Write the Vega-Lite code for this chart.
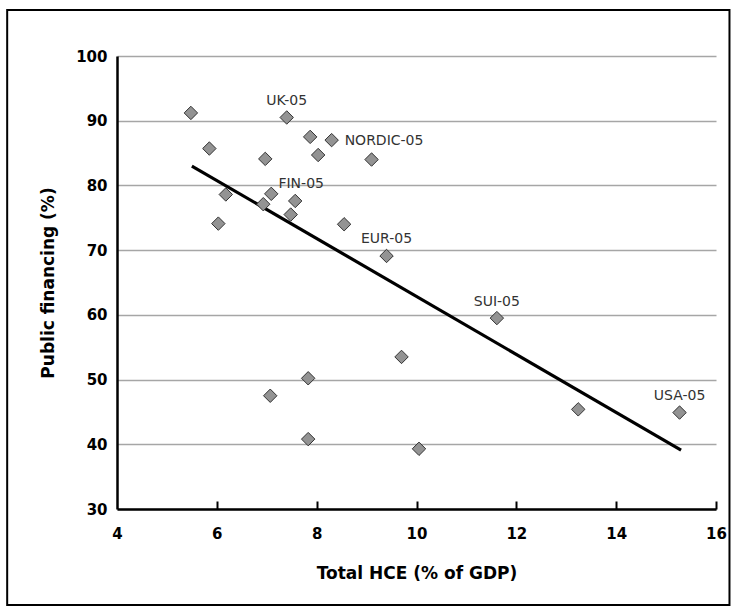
{
  "$schema": "https://vega.github.io/schema/vega-lite/v6.json",
  "width": 599,
  "height": 453,
  "autosize": {"type": "none"},
  "padding": {"left": 117, "top": 56, "right": 20, "bottom": 101},
  "background": "white",
  "config": {"view": {"stroke": null}, "font": "DejaVu Sans"},
  "resolve": {"axis": {"x": "independent"}},
  "datasets": {
    "points": [
      {"hce": 5.48, "pub": 91.2, "label": ""},
      {"hce": 7.40, "pub": 90.5, "label": "UK-05"},
      {"hce": 7.87, "pub": 87.5, "label": ""},
      {"hce": 8.30, "pub": 87.0, "label": "NORDIC-05"},
      {"hce": 5.85, "pub": 85.7, "label": ""},
      {"hce": 8.03, "pub": 84.7, "label": ""},
      {"hce": 6.97, "pub": 84.1, "label": ""},
      {"hce": 9.10, "pub": 84.0, "label": ""},
      {"hce": 6.18, "pub": 78.6, "label": ""},
      {"hce": 7.09, "pub": 78.7, "label": ""},
      {"hce": 7.57, "pub": 77.6, "label": "FIN-05"},
      {"hce": 6.93, "pub": 77.1, "label": ""},
      {"hce": 7.48, "pub": 75.5, "label": ""},
      {"hce": 6.03, "pub": 74.1, "label": ""},
      {"hce": 8.55, "pub": 74.0, "label": ""},
      {"hce": 9.40, "pub": 69.1, "label": "EUR-05"},
      {"hce": 11.61, "pub": 59.5, "label": "SUI-05"},
      {"hce": 9.70, "pub": 53.5, "label": ""},
      {"hce": 7.83, "pub": 50.2, "label": ""},
      {"hce": 7.07, "pub": 47.5, "label": ""},
      {"hce": 7.83, "pub": 40.8, "label": ""},
      {"hce": 10.05, "pub": 39.3, "label": ""},
      {"hce": 13.24, "pub": 45.4, "label": ""},
      {"hce": 15.27, "pub": 44.9, "label": "USA-05"}
    ],
    "fit": [
      {"hce": 5.5, "pub": 83.0},
      {"hce": 15.3, "pub": 39.1}
    ]
  },
  "layer": [
    {
      "data": {"values": [{}]},
      "mark": {"type": "rect", "fill": null, "stroke": "black", "strokeWidth": 2, "clip": false},
      "encoding": {
        "x": {"datum": 1.8, "type": "quantitative", "scale": {"domain": [4, 16], "nice": false, "zero": false}, "axis": null},
        "x2": {"datum": 16.27},
        "y": {"datum": 107.1, "type": "quantitative", "scale": {"domain": [30, 100], "nice": false, "zero": false}, "title": "Public financing (%)"},
        "y2": {"datum": 15.16}
      }
    },
    {
      "data": {"name": "fit"},
      "mark": {"type": "line", "color": "black", "strokeWidth": 3.2},
      "encoding": {
        "x": {
          "field": "hce", "type": "quantitative",
          "scale": {"domain": [4, 16], "nice": false, "zero": false},
          "axis": {
            "orient": "top", "offset": -453,
            "values": [6, 8, 10, 12, 14, 16],
            "grid": false, "domain": false, "labels": false, "title": null,
            "ticks": true, "tickColor": "black", "tickWidth": 2, "tickSize": 8
          }
        },
        "y": {"field": "pub", "type": "quantitative", "scale": {"domain": [30, 100], "nice": false, "zero": false}, "title": "Public financing (%)"}
      }
    },
    {
      "data": {"name": "points"},
      "mark": {"type": "point", "shape": "diamond", "filled": true, "fill": "#939393", "stroke": "#333333", "strokeWidth": 1, "size": 180, "opacity": 1},
      "encoding": {
        "x": {
          "field": "hce", "type": "quantitative",
          "scale": {"domain": [4, 16], "nice": false, "zero": false},
          "title": "Total HCE (% of GDP)",
          "axis": {
            "values": [4, 6, 8, 10, 12, 14, 16],
            "grid": false,
            "domainColor": "black", "domainWidth": 2.5,
            "ticks": false, "tickSize": 0,
            "labelFont": "DejaVu Sans", "labelFontWeight": "bold", "labelFontSize": 15, "labelColor": "black",
            "labelPadding": 17, "labelFlush": false, "labelOverlap": false,
            "titleFont": "DejaVu Sans", "titleFontSize": 17, "titleFontWeight": "bold", "titleColor": "black",
            "titlePadding": 24
          }
        },
        "y": {
          "field": "pub", "type": "quantitative",
          "scale": {"domain": [30, 100], "nice": false, "zero": false},
          "title": "Public financing (%)",
          "axis": {
            "values": [30, 40, 50, 60, 70, 80, 90, 100],
            "grid": true, "gridColor": "#a6a6a6", "gridWidth": 1.5,
            "ticks": false, "tickSize": 0,
            "domainColor": "black", "domainWidth": 2.5,
            "labelFont": "DejaVu Sans", "labelFontWeight": "bold", "labelFontSize": 15, "labelColor": "black",
            "labelPadding": 10, "labelFlush": false, "labelOverlap": false,
            "titleFont": "DejaVu Sans", "titleFontSize": 17, "titleFontWeight": "bold", "titleColor": "black",
            "titlePadding": 18
          }
        }
      }
    },
    {
      "data": {"name": "points"},
      "transform": [{"filter": {"field": "label", "oneOf": ["UK-05", "EUR-05", "SUI-05", "USA-05"]}}],
      "mark": {"type": "text", "align": "center", "baseline": "alphabetic", "dy": -12.5, "font": "DejaVu Sans", "fontSize": 14, "fill": "#333333"},
      "encoding": {
        "x": {"field": "hce", "type": "quantitative", "scale": {"domain": [4, 16], "nice": false, "zero": false}, "axis": null},
        "y": {"field": "pub", "type": "quantitative", "scale": {"domain": [30, 100], "nice": false, "zero": false}, "title": "Public financing (%)"},
        "text": {"field": "label"}
      }
    },
    {
      "data": {"name": "points"},
      "transform": [{"filter": {"field": "label", "equal": "FIN-05"}}],
      "mark": {"type": "text", "align": "center", "baseline": "alphabetic", "dx": 6, "dy": -12.5, "font": "DejaVu Sans", "fontSize": 14, "fill": "#333333"},
      "encoding": {
        "x": {"field": "hce", "type": "quantitative", "scale": {"domain": [4, 16], "nice": false, "zero": false}, "axis": null},
        "y": {"field": "pub", "type": "quantitative", "scale": {"domain": [30, 100], "nice": false, "zero": false}, "title": "Public financing (%)"},
        "text": {"field": "label"}
      }
    },
    {
      "data": {"name": "points"},
      "transform": [{"filter": {"field": "label", "equal": "NORDIC-05"}}],
      "mark": {"type": "text", "align": "left", "baseline": "middle", "dx": 13, "dy": 1, "font": "DejaVu Sans", "fontSize": 14, "fill": "#333333"},
      "encoding": {
        "x": {"field": "hce", "type": "quantitative", "scale": {"domain": [4, 16], "nice": false, "zero": false}, "axis": null},
        "y": {"field": "pub", "type": "quantitative", "scale": {"domain": [30, 100], "nice": false, "zero": false}, "title": "Public financing (%)"},
        "text": {"field": "label"}
      }
    }
  ]
}
